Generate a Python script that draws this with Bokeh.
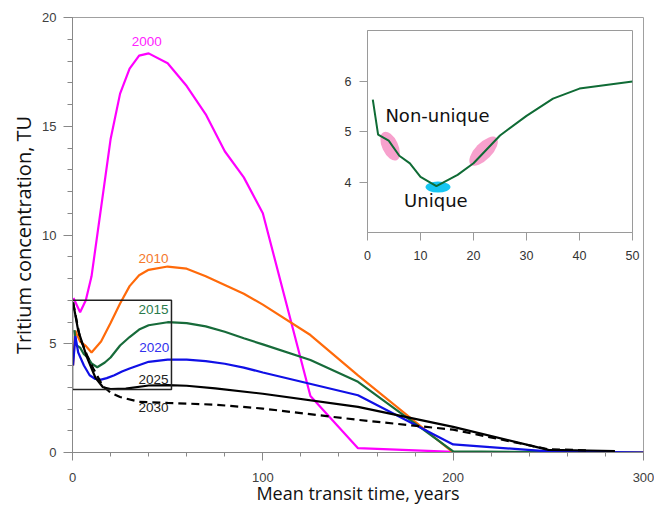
from bokeh.plotting import figure
from bokeh.models import Range1d, FixedTicker
from bokeh.embed import file_html
from bokeh.resources import INLINE
from bokeh.core.properties import value

# ---------------- data ----------------
x2000 = [0.5, 4, 7, 10, 20, 25, 30, 35, 40, 50, 60, 70, 80, 90, 100, 125, 150, 200, 300]
y2000 = [7.1, 6.45, 7.0, 8.1, 14.4, 16.5, 17.65, 18.25, 18.35, 17.9, 16.85, 15.55, 13.85, 12.65, 11.0, 2.6, 0.2, 0.03, 0.0]

x2010 = [0.3, 1.5, 4, 7, 10, 15, 20, 25, 30, 35, 40, 50, 60, 70, 80, 90, 100, 125, 150, 200, 300]
y2010 = [4.0, 5.6, 5.1, 4.9, 4.6, 5.1, 5.95, 6.85, 7.65, 8.15, 8.4, 8.55, 8.45, 8.1, 7.7, 7.3, 6.8, 5.4, 3.55, 0.0, 0.0]

x2015 = [1, 2, 4, 6, 8, 10, 13, 17, 20, 25, 30, 35, 40, 50, 60, 70, 80, 90, 100, 125, 150, 200, 250, 300]
y2015 = [5.63, 4.94, 4.82, 4.52, 4.37, 4.10, 3.92, 4.14, 4.37, 4.92, 5.31, 5.65, 5.85, 5.99, 5.95, 5.8, 5.55, 5.25, 4.97, 4.25, 3.25, 0.05, 0.02, 0.0]

x2020 = [0.3, 1.5, 3, 6, 9, 12, 15, 18, 22, 26, 30, 40, 50, 60, 70, 80, 90, 100, 150, 200, 250, 300]
y2020 = [4.0, 5.35, 4.6, 4.0, 3.55, 3.38, 3.35, 3.42, 3.55, 3.72, 3.86, 4.17, 4.27, 4.27, 4.2, 4.08, 3.9, 3.68, 2.63, 0.37, 0.05, 0.0]

x2025 = [0.3, 3, 7.5, 12, 16, 20, 28, 40, 50, 60, 75, 100, 150, 200, 250, 285]
y2025 = [6.9, 5.6, 4.4, 3.45, 3.0, 2.92, 2.94, 3.08, 3.1, 3.07, 2.95, 2.7, 2.1, 1.18, 0.12, 0.07]

x2030 = [0.3, 4, 8, 11, 16, 20, 25, 35, 50, 75, 100, 150, 200, 250, 270]
y2030 = [6.9, 5.25, 4.4, 3.85, 3.05, 2.75, 2.55, 2.33, 2.28, 2.2, 2.02, 1.5, 1.05, 0.15, 0.1]

years = ["2000", "2010", "2015", "2020", "2025", "2030"]
label_x = [39, 42.5, 42.5, 43, 42.5, 42.5]
label_y = [18.9, 8.93, 6.57, 4.83, 3.37, 2.07]

box_x = [0, 52]
box_y = [2.9, 7.0]

x_ticks = [0, 100, 200, 300]
y_ticks = [0, 5, 10, 15, 20]

# inset
inset_x = x2015[:14]
inset_y = y2015[:14]
inset_x_ticks = [0, 10, 20, 30, 40, 50]
inset_y_ticks = [4, 5, 6]
pink_x = [4.27, 21.9]
pink_y = [4.71, 4.61]
cyan_x = [13.3]
cyan_y = [3.90]
note_text = ["Non-unique", "Unique"]
note_x = [13.2, 12.9]
note_y = [5.31, 3.63]

colors = ["#ff00ff", "#ff6a0a", "#176b3a", "#1010e6", "#000000", "#000000"]
label_colors = ["#ff22ff", "#f5782a", "#2a7a4c", "#3030ee", "#222222", "#222222"]

# ---------------- main figure ----------------
p = figure(width=654, height=507, x_range=Range1d(0, 300), y_range=Range1d(0, 20),
           output_backend="svg", toolbar_location=None,
           min_border_left=72, min_border_top=17, min_border_right=11, min_border_bottom=55)
p.xgrid.visible = False
p.ygrid.visible = False
p.outline_line_color = "#a0a0a0"
p.background_fill_color = "white"

series = [(x2000, y2000), (x2010, y2010), (x2015, y2015), (x2020, y2020), (x2025, y2025)]
for (xs, ys), c in zip(series, colors[:5]):
    p.line(xs, ys, line_color=c, line_width=2.2)
p.line(x2030, y2030, line_color="black", line_width=2.2, line_dash="8 5")

p.quad(left=[box_x[0]], right=[box_x[1]], bottom=[box_y[0]], top=[box_y[1]],
       fill_alpha=0, line_color="#222222", line_width=1.5)

p.text(x=label_x, y=label_y, text=years, text_color=label_colors,
       text_font=value("Liberation Sans"), text_font_size="13.5px",
       text_align="center", text_baseline="middle")

for ax in (p.xaxis[0], p.yaxis[0]):
    ax.axis_line_color = "#888888"
    ax.major_tick_line_color = "#888888"
    ax.minor_tick_line_color = "#888888"
    ax.major_tick_in = 0
    ax.minor_tick_in = 0
    ax.major_label_text_font = "Liberation Sans"
    ax.major_label_text_font_size = "13px"
    ax.major_label_text_color = "#404040"
    ax.axis_label_text_font = "Open Sans"
    ax.axis_label_text_font_style = "normal"
    ax.axis_label_text_color = "#111111"
p.xaxis.axis_label_text_font_size = "18px"
p.yaxis.axis_label_text_font_size = "20px"

p.xaxis.ticker = FixedTicker(ticks=x_ticks, minor_ticks=list(range(0, 301, 20)))
p.yaxis.ticker = FixedTicker(ticks=y_ticks, minor_ticks=list(range(0, 21)))
p.xaxis.major_tick_out = 8
p.xaxis.minor_tick_out = 4
p.yaxis.major_tick_out = 9
p.yaxis.minor_tick_out = 5
p.xaxis.major_label_standoff = 12
p.yaxis.major_label_standoff = 7
p.xaxis.axis_label = "Mean transit time, years"
p.yaxis.axis_label = "Tritium concentration, TU"
p.xaxis.axis_label_standoff = -4
p.yaxis.axis_label_standoff = 2

# ---------------- inset figure ----------------
q = figure(width=310, height=245, x_range=Range1d(0, 50), y_range=Range1d(3, 7),
           output_backend="svg", toolbar_location=None,
           min_border_left=37, min_border_right=8, min_border_top=10, min_border_bottom=33)
q.xgrid.visible = False
q.ygrid.visible = False
q.outline_line_color = "#9a9a9a"
q.background_fill_alpha = 0
q.border_fill_alpha = 0
q.styles = {"position": "absolute", "left": "330px", "top": "20px"}

q.ellipse(x=pink_x, y=pink_y, width=[31, 37], height=[16, 17], angle=[-1.13, 0.8],
          width_units="screen", height_units="screen",
          fill_color="#f7a1cd", line_color=None)
q.ellipse(x=cyan_x, y=cyan_y, width=[25], height=[11], angle=[0],
          width_units="screen", height_units="screen",
          fill_color="#16c6f2", line_color=None)
q.line(inset_x, inset_y, line_color="#0f6b35", line_width=2)
q.text(x=note_x, y=note_y, text=note_text, text_color="#111111",
       text_font=value("DejaVu Sans"), text_font_size="18px",
       text_align="center", text_baseline="middle")

for ax in (q.xaxis[0], q.yaxis[0]):
    ax.axis_line_color = "#9a9a9a"
    ax.major_tick_line_color = "#9a9a9a"
    ax.minor_tick_line_color = None
    ax.major_tick_in = 0
    ax.major_tick_out = 8
    ax.major_label_text_font = "Liberation Sans"
    ax.major_label_text_font_size = "12.5px"
    ax.major_label_text_color = "#333333"
q.xaxis.ticker = FixedTicker(ticks=inset_x_ticks)
q.yaxis.ticker = FixedTicker(ticks=inset_y_ticks)
q.xaxis.major_label_standoff = 10
q.yaxis.major_label_standoff = 8

open("out.html", "w").write(file_html([p, q], INLINE))
